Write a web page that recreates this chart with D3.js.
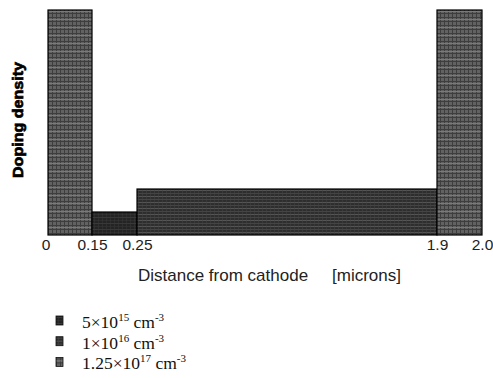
<!DOCTYPE html>
<html>
<head>
<meta charset="utf-8">
<script src="https://cdn.jsdelivr.net/npm/d3@7"></script>
<style>
  html, body { margin: 0; padding: 0; background: #fff; }
  svg { display: block; }
</style>
</head>
<body>
<svg id="chart" width="493" height="378"></svg>
<script>
// Doping profile: each region runs from regionStart to regionEnd (microns)
const regionStart  = [0, 0.15, 0.25, 1.9];
const regionEnd    = [0.15, 0.25, 1.9, 2.0];
const regionDoping = [1.25e17, 5e15, 1e16, 1.25e17];

// Axis ticks at the region boundaries
const tickValues = [0, 0.15, 0.25, 1.9, 2.0];
const tickLabels = ["0", "0.15", "0.25", "1.9", "2.0"];

// Legend entries (doping levels in cm^-3)
const legendLevels    = [5e15, 1e16, 1.25e17];
const legendMantissa  = ["5", "1", "1.25"];
const legendExponent  = ["15", "16", "17"];

const svg = d3.select("#chart");

const plot = { left: 48, right: 482, top: 10, bottom: 235 };
const pw = plot.right - plot.left;

// Schematic (not-to-scale) distance axis: the thin contact regions are widened
const x = d3.scaleLinear()
  .domain(tickValues)
  .range([0, 0.1014, 0.2051, 0.8963, 1].map(f => plot.left + f * pw));

// Schematic doping axis
const y = d3.scaleLinear()
  .domain([0, 1e16, 1.25e17])
  .range([plot.bottom, plot.bottom - 46, plot.top]);

// Fill textures for each doping level
const defs = svg.append("defs");

function gridPattern(id) {
  const p = defs.append("pattern").attr("id", id)
    .attr("patternUnits", "userSpaceOnUse").attr("width", 4).attr("height", 8);
  p.append("rect").attr("width", 4).attr("height", 8).attr("fill", "#626262");
  p.append("rect").attr("x", 0).attr("y", 0).attr("width", 1).attr("height", 8).attr("fill", "#3e3e3e");
  p.append("rect").attr("x", 0).attr("y", 1).attr("width", 4).attr("height", 1).attr("fill", "#3e3e3e");
  p.append("rect").attr("x", 0).attr("y", 5).attr("width", 4).attr("height", 1).attr("fill", "#3e3e3e");
  p.append("rect").attr("x", 0).attr("y", 3).attr("width", 4).attr("height", 1).attr("fill", "#7a7a7a");
}
function stripePattern(id, base, line, light) {
  const p = defs.append("pattern").attr("id", id)
    .attr("patternUnits", "userSpaceOnUse").attr("width", 4).attr("height", 6);
  p.append("rect").attr("width", 4).attr("height", 6).attr("fill", base);
  p.append("rect").attr("x", 0).attr("y", 1).attr("width", 4).attr("height", 1).attr("fill", line);
  p.append("rect").attr("x", 0).attr("y", 4).attr("width", 4).attr("height", 1).attr("fill", light);
  p.append("rect").attr("x", 2).attr("y", 0).attr("width", 1).attr("height", 6).attr("fill", line).attr("opacity", 0.5);
}
gridPattern("fill17");
stripePattern("fill15", "#242424", "#383838", "#2e2e2e");
stripePattern("fill16", "#2e2e2e", "#444", "#555");

const fillFor = d => d === 1.25e17 ? "url(#fill17)" : d === 1e16 ? "url(#fill16)" : "url(#fill15)";

const regions = regionStart.map((s, i) => ({ s, e: regionEnd[i], d: regionDoping[i] }));

svg.append("g").selectAll("rect")
  .data(regions)
  .join("rect")
  .attr("x", d => x(d.s))
  .attr("y", d => y(d.d))
  .attr("width", d => x(d.e) - x(d.s))
  .attr("height", d => y(0) - y(d.d))
  .attr("fill", d => fillFor(d.d))
  .attr("stroke", "#000")
  .attr("stroke-width", 1.2);

// Distance axis labels
const axis = d3.axisBottom(x)
  .tickValues(tickValues)
  .tickFormat((d, i) => tickLabels[i])
  .tickSize(0)
  .tickPadding(0);

const gx = svg.append("g")
  .attr("transform", `translate(0,${plot.bottom})`)
  .call(axis);
gx.select(".domain").remove();
gx.selectAll("text")
  .attr("dy", null)
  .attr("y", 14.5)
  .attr("fill", "#222")
  .style("font-family", "'Liberation Sans', Arial, sans-serif")
  .style("font-size", "15.5px");
gx.selectAll(".tick").filter(d => d === 0).select("text").attr("x", -2.5);

// Axis titles
svg.append("text")
  .attr("x", 138).attr("y", 281)
  .attr("fill", "#222")
  .style("font-family", "'Liberation Sans', Arial, sans-serif")
  .style("font-size", "17px")
  .text("Distance from cathode");
svg.append("text")
  .attr("x", 332).attr("y", 281)
  .attr("fill", "#222")
  .style("font-family", "'Liberation Sans', Arial, sans-serif")
  .style("font-size", "17px")
  .text("[microns]");

svg.append("text")
  .attr("transform", "translate(23,120) rotate(-90)")
  .attr("text-anchor", "middle")
  .attr("fill", "#000")
  .attr("stroke", "#000")
  .attr("stroke-width", 0.7)
  .attr("textLength", 116)
  .attr("lengthAdjust", "spacingAndGlyphs")
  .style("font-family", "'Liberation Sans', Arial, sans-serif")
  .style("font-weight", "bold")
  .style("font-size", "15px")
  .text("Doping density");

// Legend
const leg = svg.append("g")
  .selectAll("g")
  .data(legendLevels)
  .join("g")
  .attr("transform", (d, i) => `translate(56,${316 + i * 20.7})`);

leg.append("rect")
  .attr("width", 7).attr("height", 9)
  .attr("fill", d => fillFor(d))
  .attr("stroke", "#111").attr("stroke-width", 0.8);

const lt = leg.append("text")
  .attr("x", 26).attr("y", 12)
  .attr("fill", "#111")
  .style("font-family", "'Liberation Serif', 'Times New Roman', serif")
  .style("font-size", "17.5px");
lt.append("tspan").text((d, i) => legendMantissa[i] + "×" + "10");
lt.append("tspan").attr("dy", -7).style("font-size", "11px").text((d, i) => legendExponent[i]);
lt.append("tspan").attr("dy", 7).text(" cm");
lt.append("tspan").attr("dy", -7).style("font-size", "11px").text("-3");
</script>
</body>
</html>
